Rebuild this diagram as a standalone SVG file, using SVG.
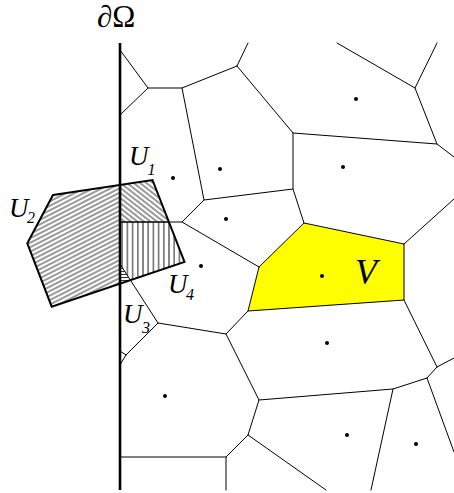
<svg xmlns="http://www.w3.org/2000/svg" width="454" height="493" viewBox="0 0 454 493">
<style>
.e{stroke:#000;stroke-width:1;fill:none;stroke-linecap:round}
.b{stroke:#000;stroke-width:2.6;fill:none}
.o{stroke:#000;stroke-width:2;fill:none;stroke-linejoin:miter}
.d{fill:#000}
.t{font-family:"Liberation Serif","Times New Roman",serif;font-style:italic;fill:#000}
.s{font-family:"Liberation Serif","Times New Roman",serif;fill:#000}
</style>
<defs>
<pattern id="h1" patternUnits="userSpaceOnUse" width="8" height="4" patternTransform="rotate(38)"><line x1="0" y1="2" x2="8" y2="2" stroke="#000" stroke-width="0.8"/></pattern>
<pattern id="h2" patternUnits="userSpaceOnUse" width="8" height="4" patternTransform="rotate(-27)"><line x1="0" y1="2" x2="8" y2="2" stroke="#000" stroke-width="0.8"/></pattern>
<pattern id="h4" patternUnits="userSpaceOnUse" width="5.2" height="8"><line x1="2.6" y1="0" x2="2.6" y2="8" stroke="#000" stroke-width="0.9"/></pattern>
<pattern id="h3" patternUnits="userSpaceOnUse" width="8" height="3"><line x1="0" y1="1.5" x2="8" y2="1.5" stroke="#000" stroke-width="0.8"/></pattern>
</defs>
<rect width="454" height="493" fill="#fff"/>
<g id="cellV">
<polygon points="304,223 404,244 404,300 248,311 259,267" fill="#ffff00" stroke="#000" stroke-width="1"/>
</g>
<g id="connectors">
<path class="e" d="M120,50 L148,88 L120,115"/>
<path class="e" d="M148,88 L182,88 L237,66 L248,43"/>
<path class="e" d="M237,66 L293,133 L293,189"/>
<path class="e" d="M293,133 L437,144 L415,88 L437,43"/>
<path class="e" d="M415,88 L337,43"/>
<path class="e" d="M437,144 L454,157"/>
<path class="e" d="M182,88 L204,200 L293,189 L304,223"/>
<path class="e" d="M204,200 L182,222 L259,267"/>
<path class="e" d="M120,222 L182,222"/>
<path class="e" d="M404,244 L454,199"/>
<path class="e" d="M248,311 L226,334 L158,323 L126,355"/>
<path class="e" d="M126,355 L120,351 M126,355 L120,365"/>
<path class="e" d="M120,264 L158,323"/>
<path class="e" d="M226,334 L259,400 L393,389 L427,378 L437,367 L454,358"/>
<path class="e" d="M437,367 L404,300"/>
<path class="e" d="M427,378 L454,452"/>
<path class="e" d="M393,389 L371,490"/>
<path class="e" d="M259,400 L248,435 L326,490"/>
<path class="e" d="M248,435 L226,457 L226,490"/>
<path class="e" d="M226,457 L120,457"/>
</g>
<g id="sites">
<circle class="d" cx="356" cy="99" r="2"/>
<circle class="d" cx="220" cy="169" r="2"/>
<circle class="d" cx="173" cy="178" r="2"/>
<circle class="d" cx="343" cy="167" r="2"/>
<circle class="d" cx="226" cy="219" r="2"/>
<circle class="d" cx="201" cy="266" r="2"/>
<circle class="d" cx="322" cy="276" r="2"/>
<circle class="d" cx="327" cy="343" r="2"/>
<circle class="d" cx="165" cy="396" r="2"/>
<circle class="d" cx="347" cy="435" r="2"/>
<circle class="d" cx="416" cy="444" r="2"/>
</g>
<g id="U2">
<polygon points="53,195 120,185 120,283.5 51.7,306.7 27.3,243.3" fill="url(#h2)"/>
</g>
<g id="U1">
<polygon points="120,185 152.5,180 168.8,222 120,222" fill="url(#h1)"/>
</g>
<g id="U4">
<polygon points="120,222 168.8,222 184.5,262 130,280 120,264" fill="url(#h4)"/>
</g>
<g id="U3">
<polygon points="120,264 130,280 120,283.5" fill="url(#h3)"/>
</g>
<g id="outline">
<polygon class="o" points="53,195 152.5,180 184.5,262 51.7,306.7 27.3,243.3"/>
<line x1="120" y1="222" x2="170" y2="222" stroke="#000" stroke-width="1.2"/>
</g>
<g id="boundary">
<line class="b" x1="120" y1="43" x2="120" y2="490"/>
</g>
<g id="labels">
<text class="s" x="97" y="27" font-size="31">∂Ω</text>
<text class="t" x="129" y="165" font-size="27">U</text><text class="t" x="147.5" y="175" font-size="16">1</text>
<text class="t" x="9" y="217" font-size="27">U</text><text class="t" x="27" y="223" font-size="16">2</text>
<text class="t" x="123" y="323" font-size="27">U</text><text class="t" x="142" y="333" font-size="16">3</text>
<text class="t" x="168" y="293" font-size="27">U</text><text class="t" x="186" y="300" font-size="16">4</text>
<text class="t" x="355" y="284" font-size="36">V</text>
</g>
</svg>
